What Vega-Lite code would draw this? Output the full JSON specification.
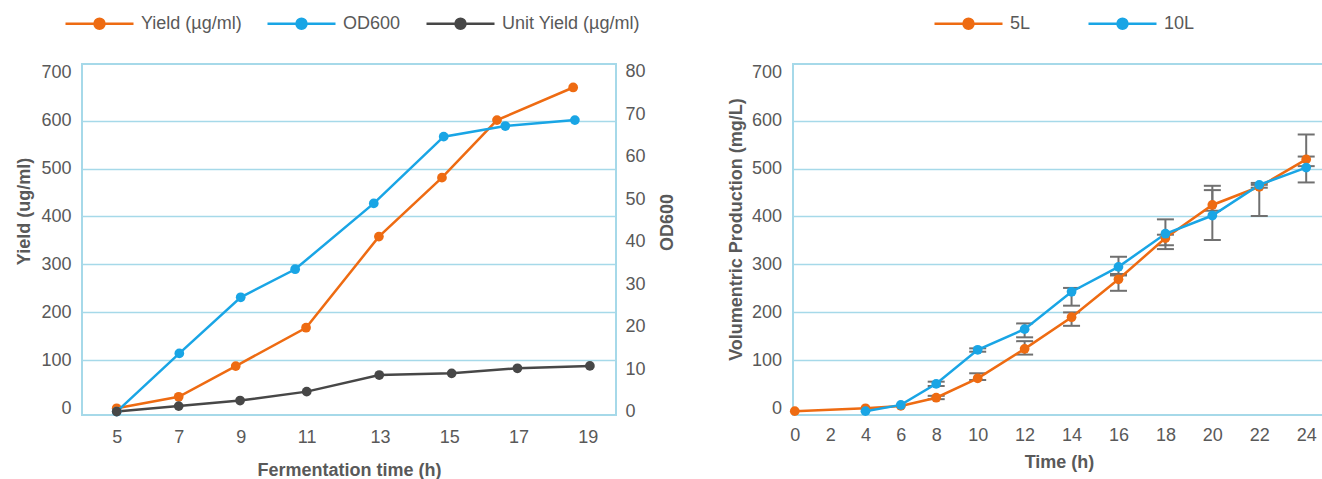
{
  "$schema": "https://vega.github.io/schema/vega-lite/v6.json",
  "padding": {"left": 14, "top": 11, "right": 0, "bottom": 0},
  "bounds": "flush",
  "spacing": 177,
  "config": {
    "font": "Liberation Sans",
    "view": {"stroke": "#A6D9E9", "strokeWidth": 2},
    "axis": {"labelFont": "Liberation Sans", "labelFontSize": 18, "labelColor": "#595959", "titleFont": "Liberation Sans", "titleFontSize": 18, "titleFontWeight": "bold", "titleColor": "#595959", "ticks": false, "domain": false, "grid": false},
    "legend": {"orient": "none", "direction": "horizontal", "symbolType": "M-3.4,0H3.4M0.5,0A0.5,0.5,0,1,1,-0.5,0A0.5,0.5,0,1,1,0.5,0Z", "symbolSize": 400, "symbolStrokeWidth": 2.5, "labelFont": "Liberation Sans", "labelFontSize": 18, "labelColor": "#595959", "labelOffset": 30, "labelLimit": 400, "padding": 0}
  },
  "resolve": {"scale": {"color": "independent", "x": "independent", "y": "independent"}, "legend": {"color": "independent"}},
  "hconcat": [
    {
      "width": 534,
      "height": 351,
      "data": {"values": [
        {"t": 5, "v": 0, "s": "Yield (µg/ml)"},
        {"t": 7, "v": 24, "s": "Yield (µg/ml)"},
        {"t": 8.84, "v": 88, "s": "Yield (µg/ml)"},
        {"t": 10.98, "v": 168, "s": "Yield (µg/ml)"},
        {"t": 12.97, "v": 358, "s": "Yield (µg/ml)"},
        {"t": 14.79, "v": 481, "s": "Yield (µg/ml)"},
        {"t": 16.38, "v": 601, "s": "Yield (µg/ml)"},
        {"t": 18.58, "v": 669, "s": "Yield (µg/ml)"},
        {"t": 5, "v": 0, "s": "OD600"},
        {"t": 7.02, "v": 13.7, "s": "OD600"},
        {"t": 9, "v": 26.9, "s": "OD600"},
        {"t": 10.65, "v": 33.5, "s": "OD600"},
        {"t": 12.83, "v": 49, "s": "OD600"},
        {"t": 14.84, "v": 64.7, "s": "OD600"},
        {"t": 16.62, "v": 67.2, "s": "OD600"},
        {"t": 18.63, "v": 68.6, "s": "OD600"},
        {"t": 5, "v": 0, "s": "Unit Yield (µg/ml)"},
        {"t": 7, "v": 1.3, "s": "Unit Yield (µg/ml)"},
        {"t": 8.98, "v": 2.6, "s": "Unit Yield (µg/ml)"},
        {"t": 11, "v": 4.7, "s": "Unit Yield (µg/ml)"},
        {"t": 12.98, "v": 8.6, "s": "Unit Yield (µg/ml)"},
        {"t": 15.07, "v": 9.0, "s": "Unit Yield (µg/ml)"},
        {"t": 16.97, "v": 10.2, "s": "Unit Yield (µg/ml)"},
        {"t": 19.07, "v": 10.75, "s": "Unit Yield (µg/ml)"}
      ]},
      "encoding": {
        "x": {"field": "t", "type": "quantitative",
          "scale": {"domain": [3.9, 5, 9, 11, 13, 19, 19.9], "range": [0, 34.7, 158.7, 224.7, 298, 505.7, 534], "nice": false, "zero": false},
          "axis": {"values": [5, 7, 9, 11, 13, 15, 17, 19], "title": "Fermentation time (h)", "labelPadding": 13, "titlePadding": 15}},
        "color": {"field": "s", "type": "nominal",
          "scale": {"domain": ["Yield (µg/ml)", "OD600", "Unit Yield (µg/ml)"], "range": ["#EE6B12", "#19A5E5", "#474747"]},
          "legend": {"title": null, "legendX": 6, "legendY": -52, "columnPadding": 20,
            "encode": {"symbols": {"update": {
              "fill": {"signal": "datum.value == 'OD600' ? '#19A5E5' : datum.value == 'Yield (µg/ml)' ? '#EE6B12' : '#474747'"},
              "stroke": {"signal": "datum.value == 'OD600' ? '#19A5E5' : datum.value == 'Yield (µg/ml)' ? '#EE6B12' : '#474747'"}}}}}}
      },
      "layer": [
        {
          "transform": [{"filter": "datum.s == 'Yield (µg/ml)'"}],
          "encoding": {"y": {"field": "v", "type": "quantitative",
            "scale": {"domain": [-14, 718], "nice": false, "zero": false},
            "axis": {"orient": "left", "values": [0, 100, 200, 300, 400, 500, 600, 700], "title": "Yield (ug/ml)", "grid": true,
              "gridColor": {"condition": {"test": "datum.value === 0 || datum.value === 700", "value": "transparent"}, "value": "#A6D9E9"},
              "gridWidth": 1.5, "labelPadding": 11, "titlePadding": 7, "titleY": 147}}},
          "layer": [
            {"mark": {"type": "line", "strokeWidth": 2.5}},
            {"mark": {"type": "point", "filled": true, "size": 95, "opacity": 1}}
          ]
        },
        {
          "transform": [{"filter": "datum.s != 'Yield (µg/ml)'"}],
          "encoding": {"y": {"field": "v", "type": "quantitative",
            "scale": {"domain": [-0.8, 81.8], "nice": false, "zero": false},
            "axis": {"orient": "right", "values": [0, 10, 20, 30, 40, 50, 60, 70, 80], "title": "OD600", "titleAngle": -90, "titleBaseline": "top", "labelPadding": 9, "titlePadding": 13, "titleY": 158}}},
          "layer": [
            {"mark": {"type": "line", "strokeWidth": 2.5}},
            {"mark": {"type": "point", "filled": true, "size": 95, "opacity": 1}}
          ]
        }
      ],
      "resolve": {"scale": {"y": "independent"}}
    },
    {
      "width": 532,
      "height": 351,
      "data": {"values": [
        {"t": 0, "v": -6, "s": "5L"},
        {"t": 4, "v": 0, "s": "5L"},
        {"t": 6, "v": 5, "s": "5L"},
        {"t": 8, "v": 22, "s": "5L", "lo": 19, "hi": 26},
        {"t": 10, "v": 62.5, "s": "5L", "lo": 59, "hi": 73},
        {"t": 12, "v": 124, "s": "5L", "lo": 112, "hi": 140},
        {"t": 14, "v": 190, "s": "5L", "lo": 172, "hi": 200},
        {"t": 16, "v": 269, "s": "5L", "lo": 245, "hi": 277},
        {"t": 18, "v": 355, "s": "5L", "lo": 332, "hi": 362},
        {"t": 20, "v": 424, "s": "5L", "lo": 412, "hi": 464},
        {"t": 22, "v": 462, "s": "5L", "lo": 401, "hi": 466},
        {"t": 24, "v": 519, "s": "5L", "lo": 505, "hi": 571},
        {"t": 4, "v": -6, "s": "10L"},
        {"t": 6, "v": 7, "s": "10L"},
        {"t": 8, "v": 51, "s": "10L", "lo": 46.5, "hi": 55.5},
        {"t": 10, "v": 122, "s": "10L", "lo": 118, "hi": 125},
        {"t": 12, "v": 165, "s": "10L", "lo": 148, "hi": 177},
        {"t": 14, "v": 243, "s": "10L", "lo": 214, "hi": 251},
        {"t": 16, "v": 295, "s": "10L", "lo": 280, "hi": 316},
        {"t": 18, "v": 364, "s": "10L", "lo": 340, "hi": 394},
        {"t": 20, "v": 402, "s": "10L", "lo": 351, "hi": 455},
        {"t": 22, "v": 466, "s": "10L", "lo": 460, "hi": 470},
        {"t": 24, "v": 502, "s": "10L", "lo": 471, "hi": 525}
      ]},
      "layer": [
        {
          "transform": [{"filter": "isValid(datum.lo)"}],
          "layer": [
            {"mark": {"type": "rule", "color": "#707070", "strokeWidth": 2},
             "encoding": {"y": {"field": "lo", "type": "quantitative"}, "y2": {"field": "hi"}}},
            {"mark": {"type": "tick", "orient": "horizontal", "color": "#707070", "size": 17, "thickness": 2, "opacity": 1},
             "encoding": {"y": {"field": "lo", "type": "quantitative"}}},
            {"mark": {"type": "tick", "orient": "horizontal", "color": "#707070", "size": 17, "thickness": 2, "opacity": 1},
             "encoding": {"y": {"field": "hi", "type": "quantitative"}}}
          ]
        },
        {
          "encoding": {
            "y": {"field": "v", "type": "quantitative"},
            "color": {"field": "s", "type": "nominal",
              "scale": {"domain": ["5L", "10L"], "range": ["#EE6B12", "#19A5E5"]},
              "legend": {"title": null, "legendX": 164, "legendY": -52, "columnPadding": 52,
                "encode": {"symbols": {"update": {
                  "fill": {"signal": "datum.value == '5L' ? '#EE6B12' : '#19A5E5'"},
                  "stroke": {"signal": "datum.value == '5L' ? '#EE6B12' : '#19A5E5'"}}}}}}
          },
          "layer": [
            {"mark": {"type": "line", "strokeWidth": 2.5}},
            {"mark": {"type": "point", "filled": true, "size": 95, "opacity": 1}}
          ]
        }
      ],
      "encoding": {
        "x": {"field": "t", "type": "quantitative",
          "scale": {"domain": [-0.1, 8, 10, 24, 24.8], "range": [0, 143.2, 184.7, 513.2, 532], "nice": false, "zero": false},
          "axis": {"values": [0, 2, 4, 6, 8, 10, 12, 14, 16, 18, 20, 22, 24], "title": "Time (h)", "labelPadding": 11, "titlePadding": 9}},
        "y": {"field": "v", "type": "quantitative",
          "scale": {"domain": [-14, 718], "nice": false, "zero": false},
          "axis": {"orient": "left", "values": [0, 100, 200, 300, 400, 500, 600, 700], "title": "Volumentric Production (mg/L)", "grid": true,
            "gridColor": {"condition": {"test": "datum.value === 0 || datum.value === 700", "value": "transparent"}, "value": "#A6D9E9"},
            "gridWidth": 1.5, "labelPadding": 11.5, "titlePadding": 6, "titleY": 165}}
      }
    }
  ]
}
